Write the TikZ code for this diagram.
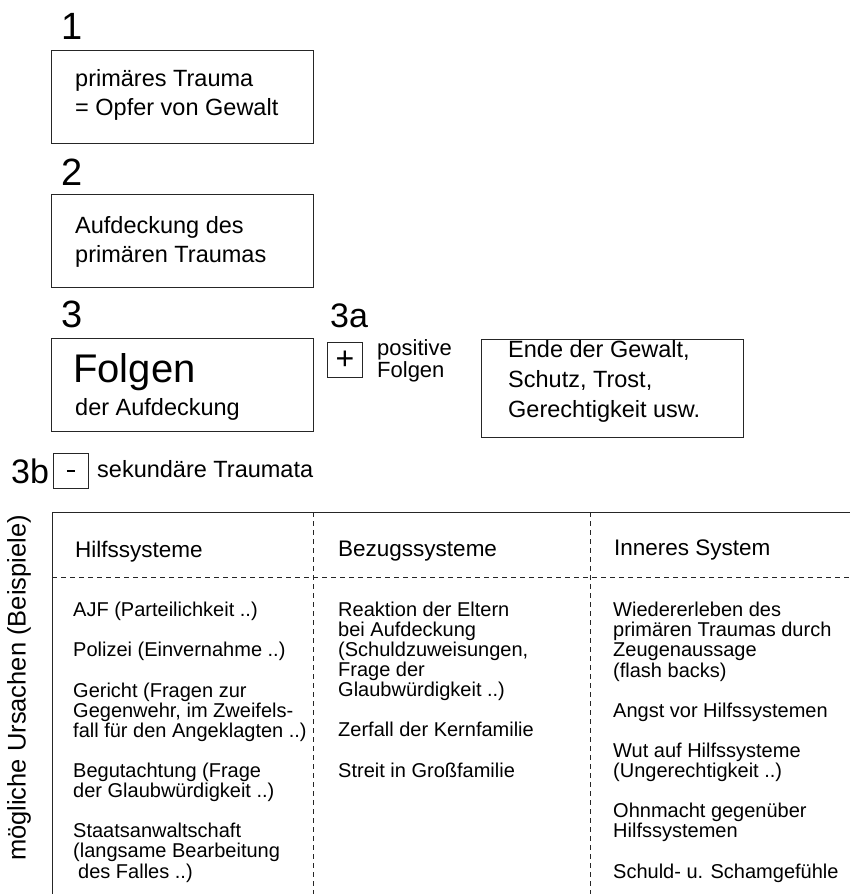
\documentclass[tikz,border=0pt]{standalone}
\usepackage{fontspec}
\setmainfont{Liberation Sans}
\usetikzlibrary{positioning}
\tikzset{
  numlbl/.style  ={font=\fontsize{38}{38}\selectfont, inner sep=0pt, anchor=base west},
  sublbl/.style  ={font=\fontsize{34}{34}\selectfont, inner sep=0pt, anchor=base west},
  boxframe/.style={draw=black!85, line width=0.9pt, inner sep=0pt, anchor=north west},
  boxtxt/.style  ={font=\fontsize{23.5}{29}\selectfont, align=left, inner sep=0pt, anchor=base west},
  signbox/.style ={draw=black!85, line width=0.9pt, minimum size=35pt, inner sep=0pt, anchor=north west, font=\fontsize{32}{32}\selectfont},
  headtxt/.style ={font=\fontsize{22.5}{22.5}\selectfont, inner sep=0pt, anchor=base west},
  celltxt/.style ={font=\fontsize{20}{20.1}\selectfont, align=left, inner sep=0pt, anchor=base west},
  solidline/.style={line width=0.9pt, draw=black!85},
  dashline/.style={line width=0.9pt, draw=black!85, dash pattern=on 5pt off 4pt}
}

\begin{document}
\begin{tikzpicture}[x=1pt,y=-1pt]
  \useasboundingbox (0,0) rectangle (850,894);
  % steps 1 to 3 (multi-line texts sit on their last baseline)
  \node[numlbl] (n1) at (61,39)  {1};
  \node[boxframe, minimum width=262pt, minimum height=93pt] (box1) at (51,50) {};
  \node[boxtxt] (txt1) at (75,115) {primäres Trauma\\= Opfer von Gewalt};
  \node[numlbl] (n2) at (61,185) {2};
  \node[boxframe, minimum width=262pt, minimum height=93pt] (box2) at (51,194) {};
  \node[boxtxt] (txt2) at (75,262) {Aufdeckung des\\primären Traumas};
  \node[numlbl] (n3) at (61,327) {3};
  \node[boxframe, minimum width=262pt, minimum height=93pt] (box3) at (51,338) {};
  \node[font=\fontsize{40}{40}\selectfont, inner sep=0pt, anchor=base west] (folgen) at (73,382) {Folgen};
  \node[boxtxt] (txt3) at (75,415) {der Aufdeckung};
  % 3a
  \node[sublbl] (n3a) at (330,327) {3a};
  \node[signbox] (plus) at (327,342) {+};
  \node[font=\fontsize{22}{22}\selectfont, align=left, inner sep=0pt, anchor=base west] (pos) at (377,377) {positive\\Folgen};
  \node[boxframe, minimum width=262pt, minimum height=98pt] (box3a) at (481,339) {};
  \node[boxtxt, font=\fontsize{23.5}{30}\selectfont] (txt3a) at (508,417) {Ende der Gewalt,\\Schutz, Trost,\\Gerechtigkeit usw.};
  % 3b
  \node[sublbl] (n3b) at (11,483) {3b};
  \node[signbox] (minus) at (53,453) {\rule{8pt}{2.8pt}};
  \node[boxtxt] (sek) at (97,477) {sekundäre Traumata};
  % table
  \coordinate (tl) at (52,512);
  \coordinate (tr) at (850,512);
  \coordinate (bl) at (52,894);
  \draw[solidline] (tl) -- (tr);
  \draw[solidline] (tl) -- (bl);
  \draw[dashline] (313,512) -- (313,894);
  \draw[dashline] (590,512) -- (590,894);
  \draw[dashline] (52,577) -- (850,577);
  \node[font=\fontsize{25.5}{25.5}\selectfont, rotate=90, inner sep=0pt] (cause) at (19,688) {mögliche Ursachen (Beispiele)};
  \node[headtxt] (h1) at (75,557)  {Hilfssysteme};
  \node[headtxt] (h2) at (338,556) {Bezugssysteme};
  \node[headtxt] (h3) at (614,555) {Inneres System};
  \node[celltxt] (c1) at (73,878) {AJF (Parteilichkeit ..)\\[20.1pt]Polizei (Einvernahme ..)\\[20.1pt]Gericht (Fragen zur\\Gegenwehr, im Zweifels-\\fall für den Angeklagten ..)\\[20.1pt]Begutachtung (Frage\\der Glaubwürdigkeit ..)\\[20.1pt]Staatsanwaltschaft\\(langsame Bearbeitung\\\hspace*{5pt}des Falles ..)};
  \node[celltxt] (c2) at (338,777) {Reaktion der Eltern\\bei Aufdeckung\\(Schuldzuweisungen,\\Frage der\\Glaubwürdigkeit ..)\\[20.1pt]Zerfall der Kernfamilie\\[20.1pt]Streit in Großfamilie};
  \node[celltxt] (c3) at (613,878) {Wiedererleben des\\primären Traumas durch\\Zeugenaussage\\(flash backs)\\[20.1pt]Angst vor Hilfssystemen\\[20.1pt]Wut auf Hilfssysteme\\(Ungerechtigkeit ..)\\[20.1pt]Ohnmacht gegenüber\\Hilfssystemen\\[20.1pt]Schuld- u. Schamgefühle};
\end{tikzpicture}
\end{document}
